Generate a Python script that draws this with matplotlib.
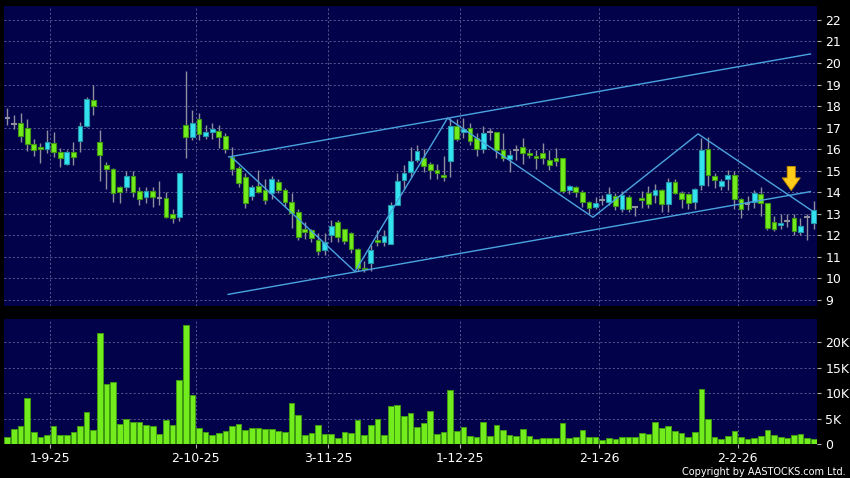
import numpy as np
import matplotlib
matplotlib.use("Agg")
import matplotlib.pyplot as plt

# daily OHLC (HKD) and volume (shares), Aug-2025 .. Feb-2026
opens = [17.45, 17.19, 17.2, 16.97, 16.24, 16.1, 16.0, 16.27, 15.86, 15.31,
         15.86, 16.4, 17.08, 18.27, 16.32, 15.28, 15.07, 14.26, 14.23, 14.76,
         14.05, 13.77, 14.05, 13.75, 13.72, 13.0, 12.83, 17.1, 16.55, 17.4,
         16.63, 16.82, 16.86, 16.61, 15.65, 15.11, 14.7, 13.82, 14.28, 14.1,
         13.98, 14.48, 14.1, 13.57, 13.08, 12.28, 12.24, 11.8, 11.32, 12.02,
         12.64, 12.28, 12.1, 11.36, 10.5, 10.7, 11.79, 11.71, 11.6, 13.41,
         14.57, 14.96, 15.5, 15.58, 15.31, 15.04, 14.8, 15.45, 17.08, 16.82,
         16.97, 16.5, 16.0, 16.79, 16.79, 15.96, 15.53, 15.96, 16.08, 15.81,
         15.7, 15.81, 15.5, 15.58, 15.58, 14.1, 14.26, 14.0, 13.54, 13.3,
         13.64, 13.57, 13.83, 13.21, 13.77, 13.3, 13.72, 13.98, 13.86, 14.1,
         13.46, 14.46, 13.98, 13.91, 13.55, 14.34, 15.99, 14.76, 14.3, 14.6,
         14.8, 13.68, 13.46, 13.57, 13.91, 13.49, 12.64, 12.5, 12.67, 12.79,
         12.14, 12.84, 12.56]
highs = [17.9, 17.6, 17.67, 17.4, 16.46, 16.27, 16.9, 16.8, 16.04, 15.96,
         16.35, 17.28, 18.44, 19.0, 16.9, 15.42, 15.12, 14.3, 14.99, 14.99,
         14.26, 14.26, 14.26, 14.5, 14.0, 13.2, 14.88, 19.65, 17.82, 17.68,
         17.1, 17.2, 17.1, 16.75, 16.1, 15.2, 14.9, 14.34, 15.04, 14.6,
         14.76, 14.6, 14.2, 13.96, 13.2, 12.6, 12.3, 12.1, 12.1, 12.7,
         12.7, 12.3, 12.15, 11.4, 10.8, 11.55, 12.27, 12.27, 13.57, 14.9,
         15.26, 16.1, 16.2, 16.0, 15.4, 15.3, 15.7, 17.44, 17.4, 17.44,
         17.2, 16.75, 17.07, 17.0, 16.79, 16.74, 15.96, 16.2, 16.5, 16.0,
         15.96, 16.3, 15.96, 16.05, 15.6, 14.35, 14.3, 14.1, 13.6, 13.8,
         13.87, 14.26, 13.95, 14.05, 13.85, 13.35, 14.05, 14.3, 14.4, 14.15,
         14.64, 14.6, 14.05, 13.95, 14.2, 16.5, 16.58, 14.9, 14.6, 15.04,
         15.0, 13.75, 13.83, 14.1, 14.26, 13.5, 12.9, 13.0, 13.0, 13.0,
         12.8, 13.0, 13.6]
lows = [17.13, 16.95, 16.35, 15.9, 15.7, 15.37, 15.8, 15.65, 15.16, 15.27,
        15.27, 15.89, 17.05, 17.58, 14.54, 14.15, 13.57, 13.5, 14.04, 13.8,
        13.41, 13.5, 13.3, 13.41, 12.82, 12.56, 12.66, 15.58, 16.43, 16.43,
        16.48, 16.48, 16.04, 15.83, 14.8, 14.24, 13.26, 13.66, 13.96, 13.45,
        13.68, 13.96, 13.3, 12.33, 11.8, 11.85, 11.7, 11.1, 11.1, 11.7,
        11.7, 11.6, 11.2, 10.33, 10.3, 10.35, 11.5, 11.5, 11.6, 13.41,
        14.15, 14.7, 15.4, 14.96, 14.6, 14.6, 14.5, 14.7, 16.4, 16.5,
        16.2, 15.7, 15.83, 16.44, 15.58, 15.44, 14.96, 15.5, 15.3, 15.6,
        15.1, 15.3, 15.04, 15.2, 13.96, 13.9, 13.8, 13.3, 13.0, 13.2,
        13.4, 13.4, 13.18, 13.1, 13.1, 12.9, 13.26, 13.26, 13.5, 13.1,
        13.1, 13.9, 13.26, 13.2, 13.2, 14.1, 14.3, 14.2, 14.1, 14.1,
        13.2, 12.8, 13.18, 13.25, 12.9, 12.26, 12.2, 12.3, 12.4, 12.0,
        12.0, 11.8, 12.3]
closes = [17.45, 17.19, 16.63, 16.23, 15.96, 16.0, 16.32, 15.86, 15.58, 15.86,
          15.65, 17.08, 18.32, 18.0, 15.72, 15.07, 13.95, 14.0, 14.76, 14.03,
          13.68, 14.05, 13.77, 13.75, 12.87, 12.79, 14.88, 16.58, 17.2, 16.71,
          16.79, 16.93, 16.58, 16.0, 15.1, 14.42, 13.49, 14.24, 14.0, 13.64,
          14.6, 14.1, 13.55, 13.03, 11.92, 12.14, 11.86, 11.29, 11.71, 12.42,
          11.94, 11.73, 11.36, 10.47, 10.42, 11.32, 11.7, 11.98, 13.41, 14.54,
          14.91, 15.45, 15.92, 15.22, 15.04, 14.88, 14.7, 17.08, 16.46, 16.93,
          16.38, 16.0, 16.74, 16.79, 15.96, 15.58, 15.72, 15.96, 15.81, 15.72,
          15.58, 15.58, 15.27, 15.47, 14.06, 14.3, 14.0, 13.54, 13.26, 13.52,
          13.64, 13.91, 13.38, 13.87, 13.23, 13.3, 13.64, 13.46, 14.1, 13.46,
          14.46, 13.95, 13.69, 13.49, 14.15, 15.95, 14.8, 14.57, 14.5, 14.8,
          13.68, 13.21, 13.46, 13.96, 13.49, 12.36, 12.28, 12.56, 12.67, 12.2,
          12.44, 12.84, 13.18]
volumes_k = [1.3, 3.0, 3.6, 9.0, 2.3, 1.3, 1.8, 3.6, 1.7, 1.7,
             2.4, 3.6, 6.3, 2.8, 21.8, 11.9, 12.3, 4.0, 5.0, 4.4,
             4.4, 3.8, 3.6, 2.0, 4.8, 3.8, 12.6, 23.4, 9.6, 3.2,
             2.4, 1.7, 2.1, 2.6, 3.5, 4.0, 2.7, 3.1, 3.2, 2.9,
             3.0, 2.5, 2.3, 8.1, 5.8, 1.7, 2.1, 3.8, 1.9, 1.9,
             1.2, 2.4, 2.2, 4.8, 1.7, 3.8, 5.0, 1.8, 7.5, 7.7,
             5.6, 6.2, 3.4, 4.1, 6.4, 2.0, 2.4, 10.6, 2.6, 3.3,
             1.5, 1.3, 4.3, 1.6, 3.8, 2.8, 1.7, 1.6, 3.0, 1.6,
             1.0, 1.1, 1.1, 1.1, 4.2, 1.2, 1.3, 2.8, 1.3, 1.3,
             0.7, 1.2, 0.9, 1.3, 1.4, 1.4, 2.2, 2.0, 4.4, 3.2,
             3.6, 2.6, 2.2, 1.3, 2.4, 10.8, 4.9, 1.3, 0.9, 1.5,
             2.5, 1.3, 1.0, 1.2, 1.5, 2.8, 1.8, 1.3, 1.2, 1.7,
             2.0, 1.1, 1.0]

# date labels and the trading-day index they fall on
date_labels = ["1-9-25", "2-10-25", "3-11-25", "1-12-25", "2-1-26", "2-2-26"]
date_idx = [6, 28, 48, 68, 89, 110]

# drawn trend lines: (bar index, price)
upper_channel = [(33.5, 15.64), (121.5, 20.42)]
lower_channel = [(33.4, 9.26), (121.5, 14.03)]
zigzag = [(33.9, 15.64), (52.6, 10.32), (66.6, 17.44), (88.6, 12.84),
          (104.5, 16.71), (121.7, 13.15)]
arrow_idx, arrow_top, arrow_tip = 118.6, 15.2, 14.08

NAVY = "#02024a"
GRID = "#62629a"
UP = "#33e4f0"
UP_EDGE = "#2498a8"
DOWN = "#72ec1c"
DOWN_EDGE = "#3f9a12"
WICK = "#8e8e9e"
LINE = "#4aa4e0"

o = np.array(opens)
h = np.array(highs)
l = np.array(lows)
c = np.array(closes)
v = np.array(volumes_k) * 1000
x = np.arange(len(o))
ticks = np.array(date_idx) + 0.5

fig = plt.figure(figsize=(8.5, 4.78), dpi=100, facecolor="black")
ax = fig.add_axes([0.0047, 0.3598, 0.9565, 0.6283], facecolor=NAVY)
axv = fig.add_axes([0.0047, 0.0711, 0.9565, 0.2615], facecolor=NAVY)

# candles
ax.vlines(x, l, h, color=WICK, lw=1, zorder=2)
up = c > o + 0.02
down = c < o - 0.02
doji = ~(up | down)
ax.bar(x[up], (c - o)[up], bottom=o[up], width=0.72, color=UP,
       edgecolor=UP_EDGE, linewidth=0.8, zorder=3)
ax.bar(x[down], (o - c)[down], bottom=c[down], width=0.72, color=DOWN,
       edgecolor=DOWN_EDGE, linewidth=0.8, zorder=3)
ax.hlines(c[doji], x[doji] - 0.42, x[doji] + 0.42, color=WICK, lw=1.5, zorder=3)

# trend lines
for pts in (upper_channel, lower_channel, zigzag):
    px, py = zip(*pts)
    ax.plot(px, py, color=LINE, lw=1.0, zorder=5)

ax.annotate("", xy=(arrow_idx, arrow_tip), xytext=(arrow_idx, arrow_top),
            arrowprops=dict(arrowstyle="simple,head_length=0.7,head_width=1.0,tail_width=0.45",
                            fc="#ffcc1a", ec="#c88a00", lw=0.6, mutation_scale=13,
                            shrinkA=0, shrinkB=0),
            zorder=6)

ax.set_xlim(-0.5, 122.5)
ax.set_ylim(8.72, 22.66)
ax.set_yticks(range(9, 23))
ax.set_xticks(ticks)
ax.set_xticklabels([])

# volume
axv.bar(x, v, width=0.86, color=DOWN, edgecolor=DOWN_EDGE, linewidth=0.7, zorder=3)
axv.set_xlim(-0.5, 122.5)
axv.set_ylim(0, 24600)
axv.set_yticks([0, 5000, 10000, 15000, 20000])
axv.set_yticklabels(["0", "5K", "10K", "15K", "20K"])
axv.set_xticks(ticks)
axv.set_xticklabels(date_labels)

for a in (ax, axv):
    a.grid(True, color=GRID, lw=0.6, linestyle=(0, (2.5, 2.5)), zorder=0)
    a.set_axisbelow(True)
    for s in a.spines.values():
        s.set_visible(False)
    a.yaxis.tick_right()
    a.tick_params(axis="y", colors="#b0b0b0", labelcolor="white", length=3,
                  pad=3, labelsize=9)
    a.tick_params(axis="x", colors="#b0b0b0", labelcolor="white", length=3,
                  pad=3, labelsize=9)
ax.tick_params(axis="x", length=0)

fig.text(0.995, 0.003, "Copyright by AASTOCKS.com Ltd.", color="white",
         fontsize=7, ha="right", va="bottom")

fig.savefig("out.png", dpi=100, facecolor="black")
